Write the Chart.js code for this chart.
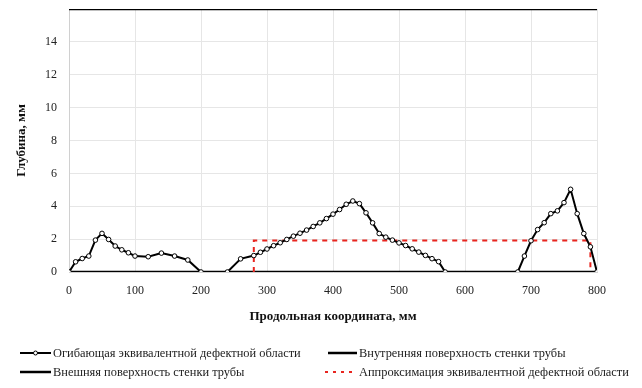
<!DOCTYPE html>
<html>
<head>
<meta charset="utf-8">
<script src="https://cdn.jsdelivr.net/npm/chart.js@4/dist/chart.umd.min.js"></script>
<style>
  body { margin: 0; background: #fff; }
  #wrap { position: relative; width: 642px; height: 388px; }
  #legend { position: absolute; left: 0; top: 0; width: 642px; height: 388px; pointer-events: none;
            font-family: "Liberation Serif", serif; font-size: 12.4px; color: #222; }
  .item { position: absolute; display: flex; align-items: center; height: 16px; white-space: nowrap; }
  .item svg { margin-right: 2px; }
</style>
</head>
<body>
<div id="wrap">
  <canvas id="chart" width="642" height="330"></canvas>
  <div id="legend"></div>
</div>
<script>
// envelope of the equivalent defect area
const envelopeX = [0, 10, 20, 30, 40, 50, 60, 70, 80, 90, 100, 120, 140, 160, 180, 200,
  240, 260, 280, 290, 300, 310, 320, 330, 340, 350, 360, 370, 380, 390, 400, 410, 420, 430,
  440, 450, 460, 470, 480, 490, 500, 510, 520, 530, 540, 550, 560, 570,
  680, 690, 700, 710, 720, 730, 740, 750, 760, 770, 780, 790, 800];
const envelopeY = [0, 0.62, 0.82, 0.97, 1.94, 2.35, 1.98, 1.58, 1.35, 1.17, 0.97, 0.93, 1.15, 0.97, 0.73, 0,
  0, 0.8, 1.0, 1.2, 1.4, 1.6, 1.78, 1.98, 2.18, 2.36, 2.55, 2.77, 2.99, 3.25, 3.52, 3.8, 4.12, 4.32,
  4.16, 3.6, 2.99, 2.34, 2.12, 1.94, 1.77, 1.61, 1.41, 1.21, 1.01, 0.81, 0.63, 0,
  0, 0.97, 1.9, 2.58, 3.0, 3.55, 3.72, 4.22, 5.03, 3.55, 2.34, 1.53, 0];

// pipe wall surfaces
const innerX = [0, 800];
const innerY = [0, 0];
const outerX = [0, 800];
const outerY = [16, 16];

// rectangular approximation
const approxX = [280, 280, 790, 790];
const approxY = [0, 1.92, 1.92, 0];

const xTicks = [0, 100, 200, 300, 400, 500, 600, 700, 800];
const yTicks = [0, 2, 4, 6, 8, 10, 12, 14];

const labels = [
  'Огибающая эквивалентной дефектной области',
  'Внутренняя поверхность стенки трубы',
  'Внешняя поверхность стенки трубы',
  'Аппроксимация эквивалентной дефектной области'
];

function pts(xs, ys) {
  return xs.map((x, i) => ({ x: x, y: ys[i] }));
}

const serif = '"Liberation Serif", "Times New Roman", serif';

const ctx = document.getElementById('chart').getContext('2d');
new Chart(ctx, {
  type: 'line',
  data: {
    datasets: [
      {
        label: labels[0],
        data: pts(envelopeX, envelopeY),
        borderColor: '#000',
        borderWidth: 2,
        pointRadius: 2.3,
        pointBackgroundColor: '#fff',
        pointBorderColor: '#000',
        pointBorderWidth: 1,
        tension: 0,
        order: 0
      },
      {
        label: labels[1],
        data: pts(innerX, innerY),
        borderColor: '#000',
        borderWidth: 2.5,
        pointRadius: 0,
        order: 2
      },
      {
        label: labels[2],
        data: pts(outerX, outerY),
        borderColor: '#000',
        borderWidth: 2.5,
        pointRadius: 0,
        order: 2
      },
      {
        label: labels[3],
        data: pts(approxX, approxY),
        borderColor: '#e8251f',
        borderWidth: 2,
        borderDash: [5, 5],
        pointRadius: 0,
        order: 1
      }
    ]
  },
  options: {
    responsive: false,
    animation: false,
    layout: { padding: { top: 9, right: 45, left: 0, bottom: 0 } },
    plugins: {
      legend: { display: false },
      tooltip: { enabled: false }
    },
    scales: {
      x: {
        type: 'linear',
        min: 0,
        max: 800,
        afterBuildTicks: axis => { axis.ticks = xTicks.map(v => ({ value: v })); },
        afterFit: axis => { axis.height = 58; axis.paddingLeft = 0; axis.paddingRight = 0; },
        grid: { color: '#e6e6e6', drawTicks: false },
        border: { color: '#d0d0d0' },
        ticks: { padding: 12, color: '#222', font: { family: serif, size: 12 } },
        title: {
          display: true,
          text: 'Продольная координата, мм',
          color: '#111',
          font: { family: serif, size: 13, weight: 'bold' },
          padding: { top: 0, bottom: 6 }
        }
      },
      y: {
        min: 0,
        max: 16,
        afterBuildTicks: axis => { axis.ticks = yTicks.concat([16]).map(v => ({ value: v })); },
        afterFit: axis => { axis.width = 69; axis.paddingTop = 0; axis.paddingBottom = 0; },
        grid: { color: '#e6e6e6', drawTicks: false },
        border: { color: '#d0d0d0' },
        ticks: {
          padding: 12,
          color: '#222',
          font: { family: serif, size: 12 },
          callback: v => (v === 16 ? '' : v)
        },
        title: {
          display: true,
          text: 'Глубина, мм',
          color: '#111',
          font: { family: serif, size: 13, weight: 'bold' },
          padding: { top: 14, bottom: 0 }
        }
      }
    }
  }
});

// legend in two columns, like the original
const legendPos = [[20, 345], [328, 345], [20, 364], [325, 364]];
const samples = [
  '<svg width="31" height="8"><line x1="0" y1="4" x2="31" y2="4" stroke="#000" stroke-width="2"/><circle cx="15.5" cy="4" r="2" fill="#fff" stroke="#000" stroke-width="1"/></svg>',
  '<svg width="29" height="8"><line x1="0" y1="4" x2="29" y2="4" stroke="#000" stroke-width="2.5"/></svg>',
  '<svg width="31" height="8"><line x1="0" y1="4" x2="31" y2="4" stroke="#000" stroke-width="2.5"/></svg>',
  '<svg width="32" height="8"><line x1="0" y1="4" x2="32" y2="4" stroke="#e8251f" stroke-width="2" stroke-dasharray="3 5"/></svg>'
];
const legend = document.getElementById('legend');
labels.forEach((t, i) => {
  const d = document.createElement('div');
  d.className = 'item';
  d.style.left = legendPos[i][0] + 'px';
  d.style.top = legendPos[i][1] + 'px';
  d.innerHTML = samples[i] + '<span>' + t + '</span>';
  legend.appendChild(d);
});
</script>
</body>
</html>
